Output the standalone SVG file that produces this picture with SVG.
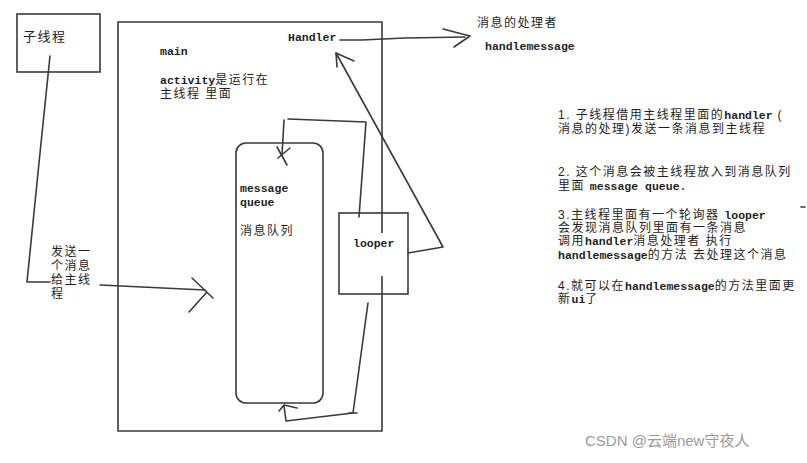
<svg xmlns="http://www.w3.org/2000/svg" width="807" height="463" viewBox="0 0 807 463">
<style>
.ln{fill:none;stroke:#3a3a3a;stroke-width:1.6;stroke-linecap:round;stroke-linejoin:round}
.box{fill:none;stroke:#3a3a3a;stroke-width:1.6}
text{fill:#1e1e1e;font-family:"Liberation Sans","Noto Sans CJK SC",sans-serif;font-size:12px;letter-spacing:1.5px}
.m{font-family:"Liberation Mono","DejaVu Sans Mono",monospace;font-size:11.5px;font-weight:bold;letter-spacing:0}
.wm{fill:#9a9a9a;font-family:"Liberation Sans","Noto Sans CJK SC",sans-serif;font-size:15px;letter-spacing:0}
</style>
<rect width="807" height="463" fill="#ffffff"/>

<g id="child-thread">
<rect class="box" x="17" y="14" width="83" height="58"/>
<text x="23" y="41" style="font-size:13px">子线程</text>
</g>

<g id="main-thread">
<path class="box" d="M382,233 V22 H118 V431 H382 V276"/>
<text class="m" x="160" y="55">main</text>
<text x="160" y="84"><tspan class="m">activity</tspan>是运行在</text>
<text x="160" y="98">主线程 里面</text>
</g>

<g id="handler">
<text class="m" x="288" y="41">Handler</text>
</g>

<g id="handler-target">
<text x="477" y="27">消息的处理者</text>
<text class="m" x="485" y="50">handlemessage</text>
</g>

<g id="message-queue">
<rect class="box" x="236" y="143" width="87" height="260" rx="10" ry="10"/>
<text class="m" x="240" y="192">message</text>
<text class="m" x="240" y="206">queue</text>
<text x="240" y="235">消息队列</text>
</g>

<g id="looper">
<rect class="box" x="339" y="213" width="69" height="81"/>
<text class="m" x="353" y="247">looper</text>
</g>

<g id="send-label">
<text x="51" y="256">发送一</text>
<text x="51" y="270">个消息</text>
<text x="51" y="284">给主线</text>
<text x="51" y="298">程</text>
</g>

<g id="connectors">
<path class="ln" d="M50,56 L40,153 L27,282 L50,282"/>
<path class="ln" d="M100,285 L205,290"/>
<path class="ln" d="M192,278 L213,298 M207,292 L189,312"/>
<path class="ln" d="M340,40 L362,40 L405,38 L465,37"/>
<path class="ln" d="M443,29 L470,36 L454,47"/>
<path class="ln" d="M408,253 L443,247 L336,53"/>
<path class="ln" d="M336,53 L354,61 M336,53 L337,67"/>
<path class="ln" d="M359,217 L366,122 L288,119"/>
<path class="ln" d="M284,120 L282,155"/>
<path class="ln" d="M277,147 L287,165 M290,148 L278,158"/>
<path class="ln" d="M368,303 L353,413 L286,421 L284,406"/>
<path class="ln" d="M349,413 L357,413"/>
<path class="ln" d="M279,411 L284,405 L297,408"/>
<path class="ln" d="M801,207 L805,207"/>
</g>

<g id="notes">
<text x="558" y="119">1. 子线程借用主线程里面的<tspan class="m">handler</tspan> (</text>
<text x="558" y="133">消息的处理)发送一条消息到主线程</text>
<text x="558" y="176">2. 这个消息会被主线程放入到消息队列</text>
<text x="558" y="190">里面 <tspan class="m">message queue.</tspan></text>
<text x="558" y="219">3.主线程里面有一个轮询器 <tspan class="m">looper</tspan></text>
<text x="558" y="232">会发现消息队列里面有一条消息</text>
<text x="558" y="245">调用<tspan class="m">handler</tspan>消息处理者 执行</text>
<text x="558" y="259"><tspan class="m">handlemessage</tspan>的方法 去处理这个消息</text>
<text x="558" y="290">4.就可以在<tspan class="m">handlemessage</tspan>的方法里面更</text>
<text x="558" y="303">新<tspan class="m">ui</tspan>了</text>
</g>

<text class="wm" x="585" y="446">CSDN @云端new守夜人</text>
</svg>
